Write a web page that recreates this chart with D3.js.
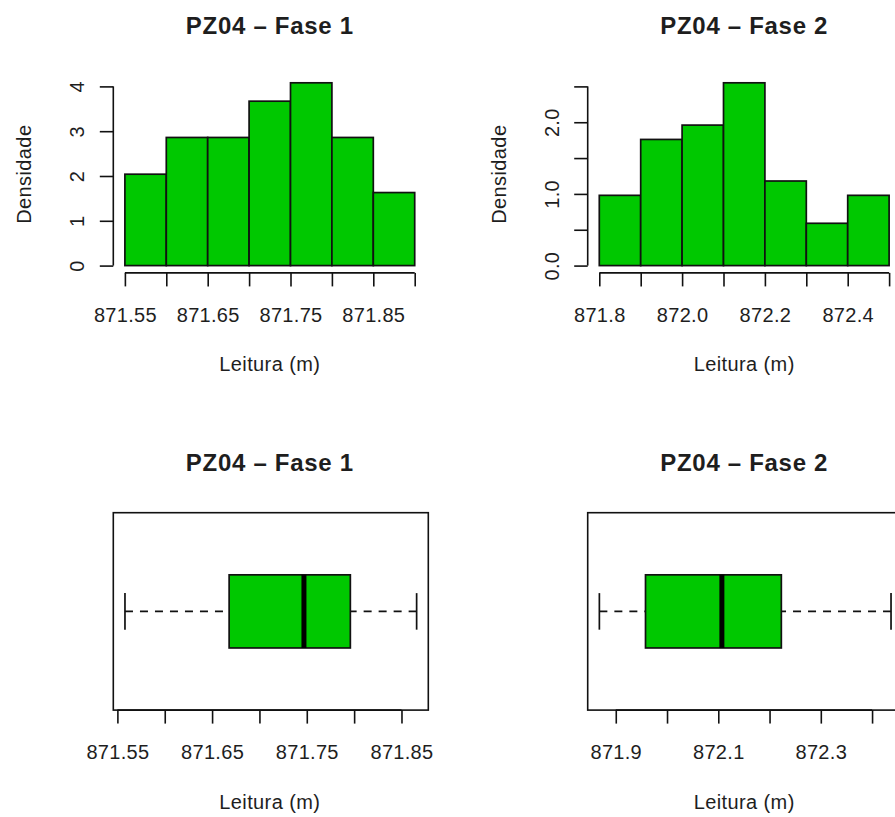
<!DOCTYPE html>
<html>
<head>
<meta charset="utf-8">
<script src="https://cdn.jsdelivr.net/npm/d3@7"></script>
<style>
  html, body { margin: 0; padding: 0; background: #fff; }
  svg { display: block; font-family: "Liberation Sans", Arial, sans-serif; }
</style>
</head>
<body>
<svg id="chart" width="895" height="817"></svg>
<script>
// ---- data ----
const titles = ["PZ04 – Fase 1", "PZ04 – Fase 2"];
const xAxisTitle = "Leitura (m)";
const yAxisTitle = "Densidade";

// histogram bins (breaks) and densities
const fase1Breaks  = [871.55, 871.60, 871.65, 871.70, 871.75, 871.80, 871.85, 871.90];
const fase1Density = [2.04, 2.86, 2.86, 3.67, 4.08, 2.86, 1.63];
const fase2Breaks  = [871.8, 871.9, 872.0, 872.1, 872.2, 872.3, 872.4, 872.5];
const fase2Density = [0.98, 1.76, 1.96, 2.55, 1.18, 0.59, 0.98];

// boxplot five-number summaries: lower whisker, Q1, median, Q3, upper whisker
const fase1Box = [871.558, 871.668, 871.747, 871.796, 871.866];
const fase2Box = [871.868, 871.958, 872.107, 872.223, 872.437];

// axis ticks and the ticks that carry a label
const hist1XTicks  = [871.55, 871.60, 871.65, 871.70, 871.75, 871.80, 871.85, 871.90];
const hist1XLabels = [871.55, 871.65, 871.75, 871.85];
const hist1YTicks  = [0, 1, 2, 3, 4];
const hist1YLabels = [0, 1, 2, 3, 4];
const hist2XTicks  = [871.8, 871.9, 872.0, 872.1, 872.2, 872.3, 872.4, 872.5];
const hist2XLabels = [871.8, 872.0, 872.2, 872.4];
const hist2YTicks  = [0, 0.5, 1.0, 1.5, 2.0, 2.5];
const hist2YLabels = [0, 1.0, 2.0];
const box1XTicks   = [871.55, 871.60, 871.65, 871.70, 871.75, 871.80, 871.85];
const box1XLabels  = [871.55, 871.65, 871.75, 871.85];
const box2XTicks   = [871.9, 872.0, 872.1, 872.2, 872.3, 872.4];
const box2XLabels  = [871.9, 872.1, 872.3];

// ---- layout ----
const GREEN = "#00c800";
const INK = "#111";
const TEXT = "#1e1e1e";
const colX = [113.3, 474.4 + 113.3];   // left edge of plot region per column
const plotW = 313;
const rowY = [75.5, 512.7];            // top edge of plot region per row
const plotH = 197.4;
const TICK = 13.5;

const svg = d3.select("#chart");

function fmtIn(list, f) {
  return v => list.some(l => Math.abs(l - v) < 1e-9) ? f(v) : "";
}

function extend(lo, hi) {
  const d = (hi - lo) * 0.04;
  return [lo - d, hi + d];
}

function frameTexts(g, title, withY) {
  g.append("text")
    .attr("x", plotW / 2).attr("y", -41.5)
    .attr("text-anchor", "middle")
    .attr("font-size", 24).attr("font-weight", "bold")
    .attr("letter-spacing", 0.7)
    .attr("fill", TEXT)
    .text(title);
  g.append("text")
    .attr("x", plotW / 2).attr("y", plotH + 98.5)
    .attr("text-anchor", "middle")
    .attr("font-size", 20).attr("letter-spacing", 0.4)
    .attr("fill", TEXT)
    .text(xAxisTitle);
  if (withY) {
    g.append("text")
      .attr("transform", `translate(-82,${plotH / 2}) rotate(-90)`)
      .attr("text-anchor", "middle")
      .attr("font-size", 20).attr("letter-spacing", 0.4)
      .attr("fill", TEXT)
      .text(yAxisTitle);
  }
}

function bottomAxis(g, x, ticks, labels, fmt) {
  const ax = d3.axisBottom(x)
    .tickValues(ticks)
    .tickSize(TICK)
    .tickSizeOuter(0)
    .tickFormat(fmtIn(labels, fmt));
  const a = g.append("g").attr("transform", `translate(0,${plotH})`).call(ax);
  a.select(".domain").remove();
  a.append("line")
    .attr("x1", x(ticks[0])).attr("x2", x(ticks[ticks.length - 1]))
    .attr("stroke", INK).attr("stroke-width", 1.6);
  a.selectAll(".tick line").attr("stroke", INK).attr("stroke-width", 1.6);
  a.selectAll(".tick text")
    .attr("y", 49.2).attr("dy", null)
    .attr("font-size", 20).attr("letter-spacing", 0.3)
    .attr("font-family", "Liberation Sans, Arial, sans-serif")
    .attr("fill", TEXT);
}

function leftAxis(g, y, ticks, labels, fmt) {
  const ax = d3.axisLeft(y)
    .tickValues(ticks)
    .tickSize(TICK)
    .tickSizeOuter(0)
    .tickFormat(fmtIn(labels, fmt));
  const a = g.append("g").call(ax);
  a.select(".domain").remove();
  a.append("line")
    .attr("y1", y(ticks[0])).attr("y2", y(ticks[ticks.length - 1]))
    .attr("stroke", INK).attr("stroke-width", 1.6);
  a.selectAll(".tick line").attr("stroke", INK).attr("stroke-width", 1.6);
  a.selectAll(".tick text")
    .attr("x", null).attr("dy", null)
    .attr("transform", "translate(-29,0) rotate(-90)")
    .attr("text-anchor", "middle")
    .attr("font-size", 20).attr("letter-spacing", 0.3)
    .attr("font-family", "Liberation Sans, Arial, sans-serif")
    .attr("fill", TEXT);
}

function histogram(col, title, breaks, dens, xt, xl, xf, yt, yl, yf) {
  const g = svg.append("g").attr("transform", `translate(${colX[col]},${rowY[0]})`);
  const x = d3.scaleLinear()
    .domain(extend(breaks[0], breaks[breaks.length - 1]))
    .range([0, plotW]);
  const y = d3.scaleLinear()
    .domain(extend(0, d3.max(dens)))
    .range([plotH, 0]);
  const bins = dens.map((d, i) => ({ x0: breaks[i], x1: breaks[i + 1], d }));
  g.selectAll("rect.bar").data(bins).join("rect")
    .attr("class", "bar")
    .attr("x", b => x(b.x0)).attr("width", b => x(b.x1) - x(b.x0))
    .attr("y", b => y(b.d)).attr("height", b => y(0) - y(b.d))
    .attr("fill", GREEN).attr("stroke", INK).attr("stroke-width", 1.7);
  bottomAxis(g, x, xt, xl, xf);
  leftAxis(g, y, yt, yl, yf);
  frameTexts(g, title, true);
}

function boxplot(col, title, stats, xt, xl, xf) {
  const g = svg.append("g").attr("transform", `translate(${colX[col]},${rowY[1]})`);
  const x = d3.scaleLinear()
    .domain(extend(stats[0], stats[4]))
    .range([0, plotW + 2]);
  const y = d3.scaleLinear()
    .domain(extend(0.5, 1.5))
    .range([plotH, 0]);
  const [lo, q1, med, q3, hi] = stats;
  const c = 1, half = 0.2, staple = 0.1;
  // whiskers (dashed, drawn from whisker end toward the box) and staples
  [[lo, q1], [hi, q3]].forEach(([a, b]) => {
    g.append("line")
      .attr("x1", x(a)).attr("x2", x(b))
      .attr("y1", y(c)).attr("y2", y(c))
      .attr("stroke", INK).attr("stroke-width", 1.6)
      .attr("stroke-dasharray", "8,7");
    g.append("line")
      .attr("x1", x(a)).attr("x2", x(a))
      .attr("y1", y(c - staple)).attr("y2", y(c + staple))
      .attr("stroke", INK).attr("stroke-width", 1.7);
  });
  g.append("rect")
    .attr("x", x(q1)).attr("width", x(q3) - x(q1))
    .attr("y", y(c + half)).attr("height", y(c - half) - y(c + half))
    .attr("fill", GREEN).attr("stroke", INK).attr("stroke-width", 1.7);
  g.append("line")
    .attr("x1", x(med)).attr("x2", x(med))
    .attr("y1", y(c + half)).attr("y2", y(c - half))
    .attr("stroke", "#000").attr("stroke-width", 5);
  g.append("rect")
    .attr("x", 0).attr("y", 0)
    .attr("width", x.range()[1]).attr("height", plotH)
    .attr("fill", "none").attr("stroke", INK).attr("stroke-width", 1.6);
  bottomAxis(g, x, xt, xl, xf);
  frameTexts(g, title, false);
}

histogram(0, titles[0], fase1Breaks, fase1Density,
  hist1XTicks, hist1XLabels, d3.format(".2f"), hist1YTicks, hist1YLabels, d3.format("d"));
histogram(1, titles[1], fase2Breaks, fase2Density,
  hist2XTicks, hist2XLabels, d3.format(".1f"), hist2YTicks, hist2YLabels, d3.format(".1f"));
boxplot(0, titles[0], fase1Box, box1XTicks, box1XLabels, d3.format(".2f"));
boxplot(1, titles[1], fase2Box, box2XTicks, box2XLabels, d3.format(".1f"));
</script>
</body>
</html>
